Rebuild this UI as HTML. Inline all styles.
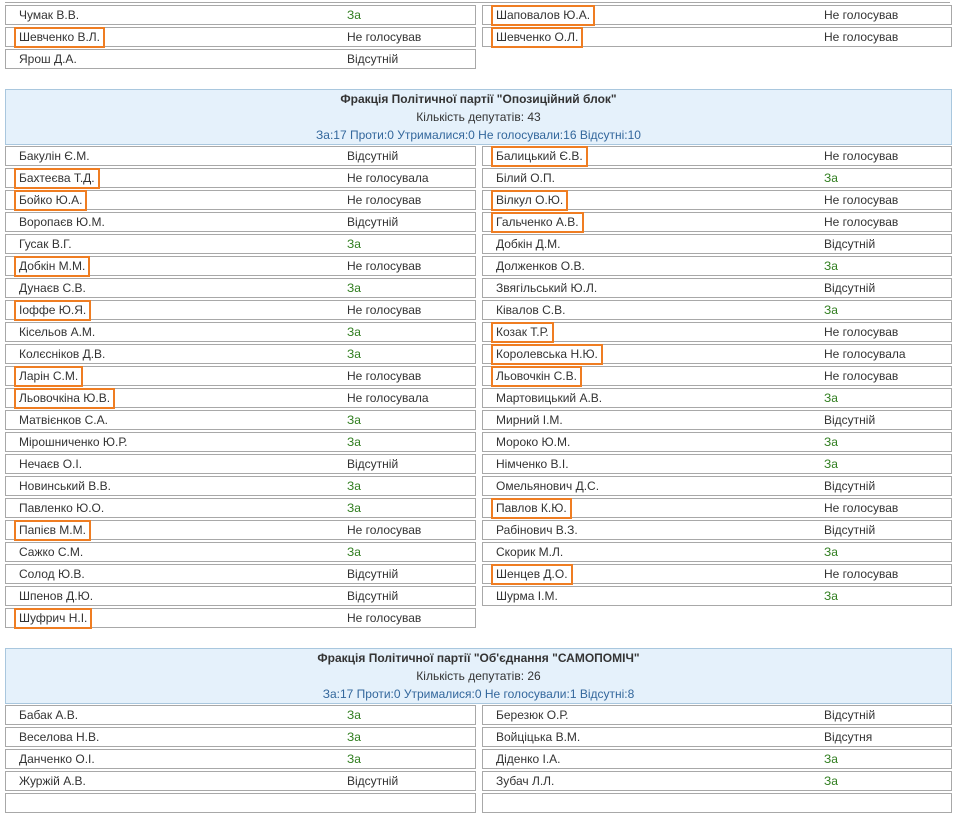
<!DOCTYPE html>
<html><head><meta charset="utf-8"><style>
body{margin:0;width:957px;height:794px;overflow:hidden;background:#fff;position:relative;font-family:"Liberation Sans","DejaVu Sans",sans-serif;font-size:12px;color:#333}
.r{position:absolute;height:18px;border:1px solid #a8a8a8;background:#fff;line-height:18px}
.L{left:5px;width:469px}.R{left:482px;width:468px}
.n{position:absolute;left:13px}.v{position:absolute;left:341px}
.g{color:#2f7d1e}
.h{position:relative;left:-5px;top:-1px;border:2px solid #ef7d22;padding:1px 3px;display:inline-block;line-height:15px}
.hd{position:absolute;left:5px;width:945px;border:1px solid #a9c7de;background:#e5f1fb;text-align:center}
.hd div{position:absolute;left:0;right:0}
.b{font-weight:bold}.s{color:#33679c}
.top{position:absolute;left:5px;width:945px;top:0;height:2px;border-bottom:1px solid #a8a8a8}
</style></head><body>
<div class="top"></div>
<div class="r L" style="top:5px"><span class="n">Чумак В.В.</span><span class="v g">За</span></div>
<div class="r R" style="top:5px"><span class="n"><span class="h">Шаповалов Ю.А.</span></span><span class="v">Не голосував</span></div>
<div class="r L" style="top:27px"><span class="n"><span class="h">Шевченко В.Л.</span></span><span class="v">Не голосував</span></div>
<div class="r R" style="top:27px"><span class="n"><span class="h">Шевченко О.Л.</span></span><span class="v">Не голосував</span></div>
<div class="r L" style="top:49px"><span class="n">Ярош Д.А.</span><span class="v">Відсутній</span></div>

<div class="hd" style="top:89px;height:54px">
<div class="b" style="top:2px">Фракція Політичної партії "Опозиційний блок"</div>
<div style="top:20px">Кількість депутатів: 43</div>
<div class="s" style="top:38px">За:17 Проти:0 Утрималися:0 Не голосували:16 Відсутні:10</div>
</div>

<div class="r L" style="top:146px"><span class="n">Бакулін Є.М.</span><span class="v">Відсутній</span></div>
<div class="r L" style="top:168px"><span class="n"><span class="h">Бахтеєва Т.Д.</span></span><span class="v">Не голосувала</span></div>
<div class="r L" style="top:190px"><span class="n"><span class="h">Бойко Ю.А.</span></span><span class="v">Не голосував</span></div>
<div class="r L" style="top:212px"><span class="n">Воропаєв Ю.М.</span><span class="v">Відсутній</span></div>
<div class="r L" style="top:234px"><span class="n">Гусак В.Г.</span><span class="v g">За</span></div>
<div class="r L" style="top:256px"><span class="n"><span class="h">Добкін М.М.</span></span><span class="v">Не голосував</span></div>
<div class="r L" style="top:278px"><span class="n">Дунаєв С.В.</span><span class="v g">За</span></div>
<div class="r L" style="top:300px"><span class="n"><span class="h">Іоффе Ю.Я.</span></span><span class="v">Не голосував</span></div>
<div class="r L" style="top:322px"><span class="n">Кісельов А.М.</span><span class="v g">За</span></div>
<div class="r L" style="top:344px"><span class="n">Колєсніков Д.В.</span><span class="v g">За</span></div>
<div class="r L" style="top:366px"><span class="n"><span class="h">Ларін С.М.</span></span><span class="v">Не голосував</span></div>
<div class="r L" style="top:388px"><span class="n"><span class="h">Льовочкіна Ю.В.</span></span><span class="v">Не голосувала</span></div>
<div class="r L" style="top:410px"><span class="n">Матвієнков С.А.</span><span class="v g">За</span></div>
<div class="r L" style="top:432px"><span class="n">Мірошниченко Ю.Р.</span><span class="v g">За</span></div>
<div class="r L" style="top:454px"><span class="n">Нечаєв О.І.</span><span class="v">Відсутній</span></div>
<div class="r L" style="top:476px"><span class="n">Новинський В.В.</span><span class="v g">За</span></div>
<div class="r L" style="top:498px"><span class="n">Павленко Ю.О.</span><span class="v g">За</span></div>
<div class="r L" style="top:520px"><span class="n"><span class="h">Папієв М.М.</span></span><span class="v">Не голосував</span></div>
<div class="r L" style="top:542px"><span class="n">Сажко С.М.</span><span class="v g">За</span></div>
<div class="r L" style="top:564px"><span class="n">Солод Ю.В.</span><span class="v">Відсутній</span></div>
<div class="r L" style="top:586px"><span class="n">Шпенов Д.Ю.</span><span class="v">Відсутній</span></div>
<div class="r L" style="top:608px"><span class="n"><span class="h">Шуфрич Н.І.</span></span><span class="v">Не голосував</span></div>

<div class="r R" style="top:146px"><span class="n"><span class="h">Балицький Є.В.</span></span><span class="v">Не голосував</span></div>
<div class="r R" style="top:168px"><span class="n">Білий О.П.</span><span class="v g">За</span></div>
<div class="r R" style="top:190px"><span class="n"><span class="h">Вілкул О.Ю.</span></span><span class="v">Не голосував</span></div>
<div class="r R" style="top:212px"><span class="n"><span class="h">Гальченко А.В.</span></span><span class="v">Не голосував</span></div>
<div class="r R" style="top:234px"><span class="n">Добкін Д.М.</span><span class="v">Відсутній</span></div>
<div class="r R" style="top:256px"><span class="n">Долженков О.В.</span><span class="v g">За</span></div>
<div class="r R" style="top:278px"><span class="n">Звягільський Ю.Л.</span><span class="v">Відсутній</span></div>
<div class="r R" style="top:300px"><span class="n">Ківалов С.В.</span><span class="v g">За</span></div>
<div class="r R" style="top:322px"><span class="n"><span class="h">Козак Т.Р.</span></span><span class="v">Не голосував</span></div>
<div class="r R" style="top:344px"><span class="n"><span class="h">Королевська Н.Ю.</span></span><span class="v">Не голосувала</span></div>
<div class="r R" style="top:366px"><span class="n"><span class="h">Льовочкін С.В.</span></span><span class="v">Не голосував</span></div>
<div class="r R" style="top:388px"><span class="n">Мартовицький А.В.</span><span class="v g">За</span></div>
<div class="r R" style="top:410px"><span class="n">Мирний І.М.</span><span class="v">Відсутній</span></div>
<div class="r R" style="top:432px"><span class="n">Мороко Ю.М.</span><span class="v g">За</span></div>
<div class="r R" style="top:454px"><span class="n">Німченко В.І.</span><span class="v g">За</span></div>
<div class="r R" style="top:476px"><span class="n">Омельянович Д.С.</span><span class="v">Відсутній</span></div>
<div class="r R" style="top:498px"><span class="n"><span class="h">Павлов К.Ю.</span></span><span class="v">Не голосував</span></div>
<div class="r R" style="top:520px"><span class="n">Рабінович В.З.</span><span class="v">Відсутній</span></div>
<div class="r R" style="top:542px"><span class="n">Скорик М.Л.</span><span class="v g">За</span></div>
<div class="r R" style="top:564px"><span class="n"><span class="h">Шенцев Д.О.</span></span><span class="v">Не голосував</span></div>
<div class="r R" style="top:586px"><span class="n">Шурма І.М.</span><span class="v g">За</span></div>

<div class="hd" style="top:648px;height:54px">
<div class="b" style="top:2px">Фракція Політичної партії "Об'єднання "САМОПОМІЧ"</div>
<div style="top:20px">Кількість депутатів: 26</div>
<div class="s" style="top:38px">За:17 Проти:0 Утрималися:0 Не голосували:1 Відсутні:8</div>
</div>

<div class="r L" style="top:705px"><span class="n">Бабак А.В.</span><span class="v g">За</span></div>
<div class="r L" style="top:727px"><span class="n">Веселова Н.В.</span><span class="v g">За</span></div>
<div class="r L" style="top:749px"><span class="n">Данченко О.І.</span><span class="v g">За</span></div>
<div class="r L" style="top:771px"><span class="n">Журжій А.В.</span><span class="v">Відсутній</span></div>
<div class="r L" style="top:793px"></div>
<div class="r R" style="top:705px"><span class="n">Березюк О.Р.</span><span class="v">Відсутній</span></div>
<div class="r R" style="top:727px"><span class="n">Войціцька В.М.</span><span class="v">Відсутня</span></div>
<div class="r R" style="top:749px"><span class="n">Діденко І.А.</span><span class="v g">За</span></div>
<div class="r R" style="top:771px"><span class="n">Зубач Л.Л.</span><span class="v g">За</span></div>
<div class="r R" style="top:793px"></div>
</body></html>
